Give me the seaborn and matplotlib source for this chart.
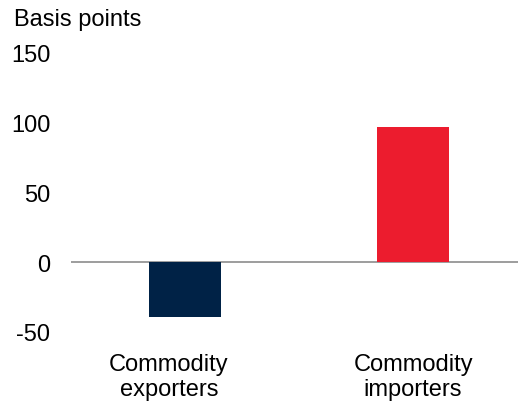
import matplotlib
matplotlib.use("Agg")
import matplotlib.pyplot as plt
import matplotlib.transforms as mtransforms
import pandas as pd
import seaborn as sns

# values (basis points)
categories = ["Commodity\nexporters", "Commodity\nimporters"]
values = [-39, 97]
bar_colors = ["#002246", "#EC1C2E"]
yticks = [-50, 0, 50, 100, 150]

df = pd.DataFrame({"group": categories, "bp": values})

sns.set_theme(style="white")
plt.rcParams["font.family"] = ["Liberation Sans", "DejaVu Sans"]
plt.rcParams["text.color"] = "#000000"

fig = plt.figure(figsize=(5.18, 4.02), dpi=100)
ax = fig.add_axes([0.137, 0.172, 0.863, 0.694])

sns.barplot(data=df, x="group", y="bp", hue="group", palette=bar_colors,
            width=0.316, legend=False, saturation=1, linewidth=0, ax=ax)

ax.axhline(0, color="#8c8c8c", lw=1.2, zorder=0)
ax.set_ylim(-50, 150)
ax.set_xlim(-0.5, 1.46)
ax.set_yticks(yticks)
ax.set_yticklabels([str(t) for t in yticks])
ax.set_xlabel("")
ax.set_ylabel("")
for s in ax.spines.values():
    s.set_visible(False)
ax.tick_params(axis="both", length=0, labelsize=17, colors="#000000")
ax.tick_params(axis="y", pad=15)
ax.tick_params(axis="x", pad=15)

# first category label sits a little left of its bar in the original
lbl = ax.get_xticklabels()[0]
lbl.set_transform(lbl.get_transform() +
                  mtransforms.ScaledTranslation(-0.16, 0, fig.dpi_scale_trans))

fig.text(0.027, 0.935, "Basis points", fontsize=17, ha="left", va="baseline",
         color="#000000")

fig.savefig("out.png", dpi=100)
